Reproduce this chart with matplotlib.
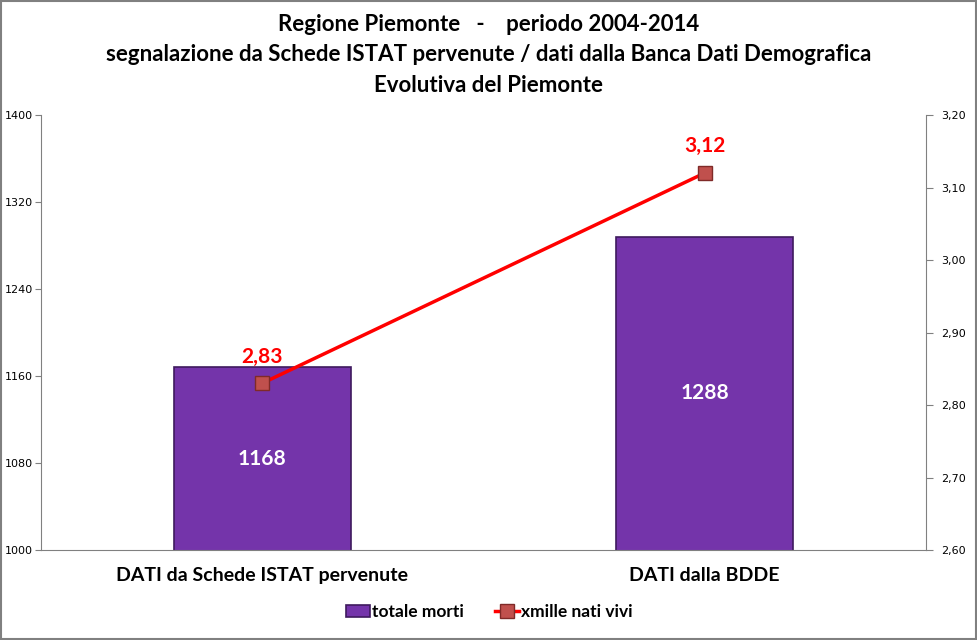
import numpy as np
import matplotlib.pyplot as plt
from matplotlib.patches import Rectangle

# dati
categorie = ["DATI da Schede ISTAT pervenute", "DATI dalla BDDE"]
totale_morti = [1168, 1288]
xmille_nati_vivi = [2.83, 3.12]
etichette_xmille = ["2,83", "3,12"]

sx_ticks = [1000, 1080, 1160, 1240, 1320, 1400]
dx_ticks = [2.60, 2.70, 2.80, 2.90, 3.00, 3.10, 3.20]

titolo = ("Regione Piemonte   -    periodo 2004-2014\n"
          "segnalazione da Schede ISTAT pervenute / dati dalla Banca Dati Demografica\n"
          "Evolutiva del Piemonte")

plt.rcParams['font.family'] = ['Lato', 'DejaVu Sans']

fig = plt.figure(figsize=(9.78, 6.4), dpi=100)
fig.patches.append(Rectangle((0.001, 0.001), 0.997, 0.997, transform=fig.transFigure,
                             fill=False, edgecolor='#808080', linewidth=1.5))

ax = fig.add_axes([0.0419, 0.1406, 0.9049, 0.6797])
x = np.arange(len(categorie))

bars = ax.bar(x, totale_morti, width=0.4, color='#7434AA', edgecolor='#3E1A5E',
              linewidth=1.2, label='totale morti', zorder=2)
for xi, v in zip(x, totale_morti):
    ax.text(xi, 1000 + (v - 1000) / 2, str(v), ha='center', va='center',
            color='white', fontsize=15, fontweight='bold', zorder=3)

ax.set_xlim(-0.5, 1.5)
ax.set_ylim(1000, 1400)
ax.set_yticks(sx_ticks)
ax.set_yticklabels([str(t) for t in sx_ticks], fontsize=8, family='DejaVu Sans')
ax.set_xticks(x)
ax.set_xticklabels(categorie, fontsize=14, fontweight='bold')
ax.tick_params(axis='x', length=0, pad=12)
ax.tick_params(axis='y', direction='out', length=4, color='#808080', pad=2)
for s in ['top', 'right']:
    ax.spines[s].set_visible(False)
for s in ['left', 'bottom']:
    ax.spines[s].set_color('#808080')

ax2 = ax.twinx()
ax2.plot(x, xmille_nati_vivi, color='#FF0000', linewidth=2.5, marker='s',
         markersize=10, markerfacecolor='#C0504D', markeredgecolor='#7F2A28',
         label='xmille nati vivi', zorder=4)
for xi, v, lab in zip(x, xmille_nati_vivi, etichette_xmille):
    ax2.annotate(lab, (xi, v), xytext=(0, 12), textcoords='offset points',
                 ha='center', va='bottom', color='#FF0000', fontsize=15,
                 fontweight='bold')
ax2.set_ylim(2.6, 3.2)
ax2.set_yticks(dx_ticks)
ax2.set_yticklabels([f"{t:.2f}".replace('.', ',') for t in dx_ticks], fontsize=8,
                    family='DejaVu Sans')
ax2.tick_params(axis='y', direction='out', length=5, color='#808080', pad=6)
for s in ['top', 'left', 'bottom']:
    ax2.spines[s].set_visible(False)
ax2.spines['right'].set_color('#808080')

fig.text(0.5, 0.978, titolo, ha='center', va='top', fontsize=16,
         fontweight='bold', linespacing=1.55)

h1, l1 = ax.get_legend_handles_labels()
h2, l2 = ax2.get_legend_handles_labels()
fig.legend(h1 + h2, l1 + l2, loc='center', bbox_to_anchor=(0.5, 0.043), ncol=2,
           frameon=False, prop={'weight': 'bold', 'size': 12.5}, handlelength=1.4,
           handletextpad=0.1, columnspacing=1.8)

fig.savefig('out.png', dpi=100)
